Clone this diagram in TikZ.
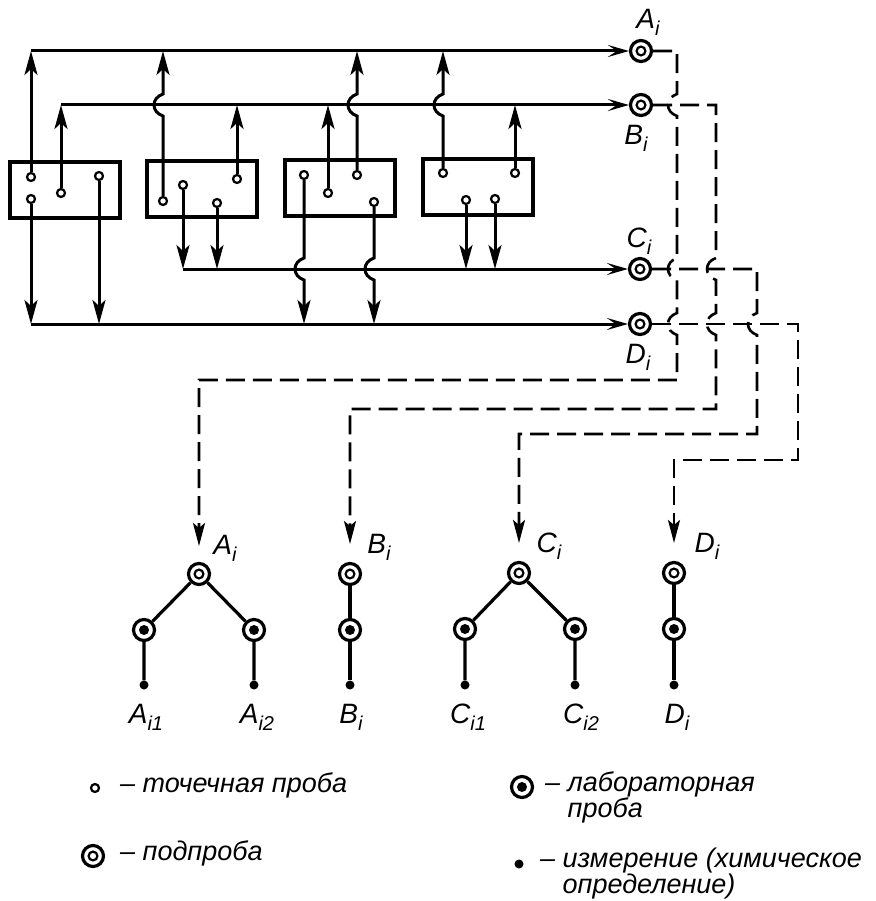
\documentclass[tikz,border=0pt]{standalone}
\usepackage{fontspec}
\setmainfont{Liberation Sans}
\newfontfamily\gost{Liberation Sans}
\usetikzlibrary{arrows.meta,calc}
\newcommand\lsub[1]{\raisebox{-0.25em}{\fontsize{20}{20}\selectfont #1}}
\tikzset{
  ln/.style={line width=3pt},
  boxn/.style={draw, line width=3.4pt, minimum width=110pt, minimum height=56pt, inner sep=0},
  pt/.style={circle, draw, line width=2.2pt, minimum size=8pt, inner sep=0, fill=white},
  subs/.style={circle, draw, line width=3.2pt, minimum size=21pt, inner sep=0, fill=white,
    path picture={\draw[black, line width=2.2pt] (path picture bounding box.center) circle (4.4pt);}},
  lab/.style={circle, draw, line width=3.2pt, minimum size=21pt, inner sep=0, fill=white,
    path picture={\fill[black] (path picture bounding box.center) circle (5pt);}},
  meas/.style={circle, fill=black, minimum size=9pt, inner sep=0},
  vup/.style={ln, -{Stealth[length=24pt,width=13pt,inset=6pt]}},
  hin/.style={ln, -{Stealth[length=21pt,width=12pt,inset=9pt]}},
  dsh/.style={line width=2.6pt, dash pattern=on 19pt off 8pt},
  dsharr/.style={dsh, -{Stealth[length=23pt,width=12pt,inset=5pt]}},
  treel/.style={line width=3.2pt},
  hopU/.style={to path={.. controls +(-12,-4) and +(-12,4) .. (\tikztotarget)}},
  hopD/.style={to path={.. controls +(-12,4) and +(-12,-4) .. (\tikztotarget)}},
  lbl/.style={font=\gost\itshape\fontsize{28}{30}\selectfont, inner sep=0},
  leg/.style={font=\gost\itshape\fontsize{27}{23}\selectfont, inner sep=0, align=left, anchor=north west},
}
\begin{document}
\begin{tikzpicture}[x=1pt,y=-1pt]
\useasboundingbox (0,0) rectangle (875,901);
% bus coordinates
\coordinate (busA) at (31,51);
\coordinate (busB) at (61,105);
\coordinate (busC) at (183,269);
\coordinate (busD) at (31,324);
% boxes
\node[boxn] (b1) at (65,190) {};
\node[boxn] (b2) at (202,189) {};
\node[boxn] (b3) at (340,188) {};
\node[boxn] (b4) at (478,187) {};
% point samples
\node[pt] (p11) at (31,177) {};
\node[pt] (p12) at (31,199) {};
\node[pt] (p13) at (61,193) {};
\node[pt] (p14) at (99,176) {};
\node[pt] (p21) at (163,201) {};
\node[pt] (p22) at (183,185) {};
\node[pt] (p23) at (217,203) {};
\node[pt] (p24) at (237,179) {};
\node[pt] (p31) at (304,175) {};
\node[pt] (p32) at (328,193) {};
\node[pt] (p33) at (357,175) {};
\node[pt] (p34) at (374,202) {};
\node[pt] (p41) at (443,173) {};
\node[pt] (p42) at (466,200) {};
\node[pt] (p43) at (495,199) {};
\node[pt] (p44) at (515,173) {};
% sub-samples at right
\node[subs] (Ai) at (641,51) {};
\node[subs] (Bi) at (641,105) {};
\node[subs] (Ci) at (640,269) {};
\node[subs] (Di) at (640,324) {};
\node[lbl] at (648,22) {A\lsub{i}};
\node[lbl] at (636,138) {B\lsub{i}};
\node[lbl] at (639,241) {C\lsub{i}};
\node[lbl] at (638,357) {D\lsub{i}};
% buses
\draw[hin] (busA) -- (Ai);
\draw[hin] (busB) -- (Bi);
\draw[hin] (busC) -- (Ci);
\draw[hin] (busD) -- (Di);
% box 1
\draw[vup] (p11) -- (p11 |- busA);
\draw[vup] (p12) -- (p12 |- busD);
\draw[vup] (p13) -- (p13 |- busB);
\draw[vup] (p14) -- (p14 |- busD);
% box 2
\draw[vup] (p21) -- ($(p21 |- busB)+(0,11)$) to[hopU] ($(p21 |- busB)+(0,-11)$) -- (p21 |- busA);
\draw[vup] (p22) -- (p22 |- busC);
\draw[vup] (p23) -- (p23 |- busC);
\draw[vup] (p24) -- (p24 |- busB);
% box 3
\draw[vup] (p31) -- ($(p31 |- busC)+(0,-11)$) to[hopD] ($(p31 |- busC)+(0,11)$) -- (p31 |- busD);
\draw[vup] (p32) -- (p32 |- busB);
\draw[vup] (p33) -- ($(p33 |- busB)+(0,11)$) to[hopU] ($(p33 |- busB)+(0,-11)$) -- (p33 |- busA);
\draw[vup] (p34) -- ($(p34 |- busC)+(0,-11)$) to[hopD] ($(p34 |- busC)+(0,11)$) -- (p34 |- busD);
% box 4
\draw[vup] (p41) -- ($(p41 |- busB)+(0,11)$) to[hopU] ($(p41 |- busB)+(0,-11)$) -- (p41 |- busA);
\draw[vup] (p42) -- (p42 |- busC);
\draw[vup] (p43) -- (p43 |- busC);
\draw[vup] (p44) -- (p44 |- busB);
% routing coordinates
\coordinate (vA) at (677,0);
\coordinate (vB) at (716,0);
\coordinate (vC) at (757,0);
\coordinate (vD) at (798,0);
\coordinate (hA) at (0,380);
\coordinate (hB) at (0,409);
\coordinate (hC) at (0,434);
\coordinate (hD) at (0,460);
% trees
\node[subs] (TA) at (199,574) {};
\node[subs] (TB) at (350,574) {};
\node[subs] (TC) at (519,573) {};
\node[subs] (TD) at (674,573) {};
\node[lab] (A1) at (144,630) {};
\node[lab] (A2) at (254,630) {};
\node[lab] (B1) at (350,630) {};
\node[lab] (C1) at (465,629) {};
\node[lab] (C2) at (575,629) {};
\node[lab] (D1) at (674,629) {};
\node[meas] (a1) at (144,685) {};
\node[meas] (a2) at (254,685) {};
\node[meas] (bb) at (350,685) {};
\node[meas] (c1) at (465,685) {};
\node[meas] (c2) at (575,685) {};
\node[meas] (dd) at (674,685) {};
\draw[treel] (TA) -- (A1) (TA) -- (A2) (A1) -- (a1) (A2) -- (a2);
\draw[treel] (TB) -- (B1) (B1) -- (bb);
\draw[treel] (TC) -- (C1) (TC) -- (C2) (C1) -- (c1) (C2) -- (c2);
\draw[treel] (TD) -- (D1) (D1) -- (dd);
\node[lbl] at (225,548) {A\lsub{i}};
\node[lbl] at (379,547) {B\lsub{i}};
\node[lbl] at (549,546) {C\lsub{i}};
\node[lbl] at (707,546) {D\lsub{i}};
\node[lbl] at (146,717) {A\lsub{i1}};
\node[lbl] at (257,717) {A\lsub{i2}};
\node[lbl] at (351,717) {B\lsub{i}};
\node[lbl] at (468,717) {C\lsub{i1}};
\node[lbl] at (581,717) {C\lsub{i2}};
\node[lbl] at (677,717) {D\lsub{i}};
% dashed routes
\draw[dsharr] (Ai) -- (Ai -| vA)
  -- ($(vA |- Bi)+(0,-11)$) to[hopD] ($(vA |- Bi)+(0,11)$)
  -- ($(vA |- Ci)+(0,-11)$) to[hopD] ($(vA |- Ci)+(0,11)$)
  -- ($(vA |- Di)+(0,-11)$) to[hopD] ($(vA |- Di)+(0,11)$)
  -- (vA |- hA) -- (TA |- hA) -- ($(TA)+(0,-28)$);
\draw[dsharr] (Bi) -- (Bi -| vB)
  -- ($(vB |- Ci)+(0,-11)$) to[hopD] ($(vB |- Ci)+(0,11)$)
  -- ($(vB |- Di)+(0,-11)$) to[hopD] ($(vB |- Di)+(0,11)$)
  -- (vB |- hB) -- (TB |- hB) -- ($(TB)+(0,-30)$);
\draw[dsharr] (Ci) -- (Ci -| vC)
  -- ($(vC |- Di)+(0,-11)$) to[hopD] ($(vC |- Di)+(0,11)$)
  -- (vC |- hC) -- (TC |- hC) -- ($(TC)+(0,-30)$);
\draw[dsharr] (Di) -- (Di -| vD) -- (vD |- hD) -- (TD |- hD) -- ($(TD)+(0,-30)$);
% legend
\node[pt] (L1) at (95,788) {};
\node[leg] (L1t) at (120,772) {– точечная проба};
\node[subs] (L2) at (93,856) {};
\node[leg] (L2t) at (120,840) {– подпроба};
\node[lab] (L3) at (522,787) {};
\node[leg] (L3t) at (545,771) {– лабораторная\\\hphantom{– }проба};
\node[meas] (L4) at (519,864) {};
\node[leg] (L4t) at (540,848) {– измерение (химическое\\\hphantom{– }определение)};
\end{tikzpicture}
\end{document}
